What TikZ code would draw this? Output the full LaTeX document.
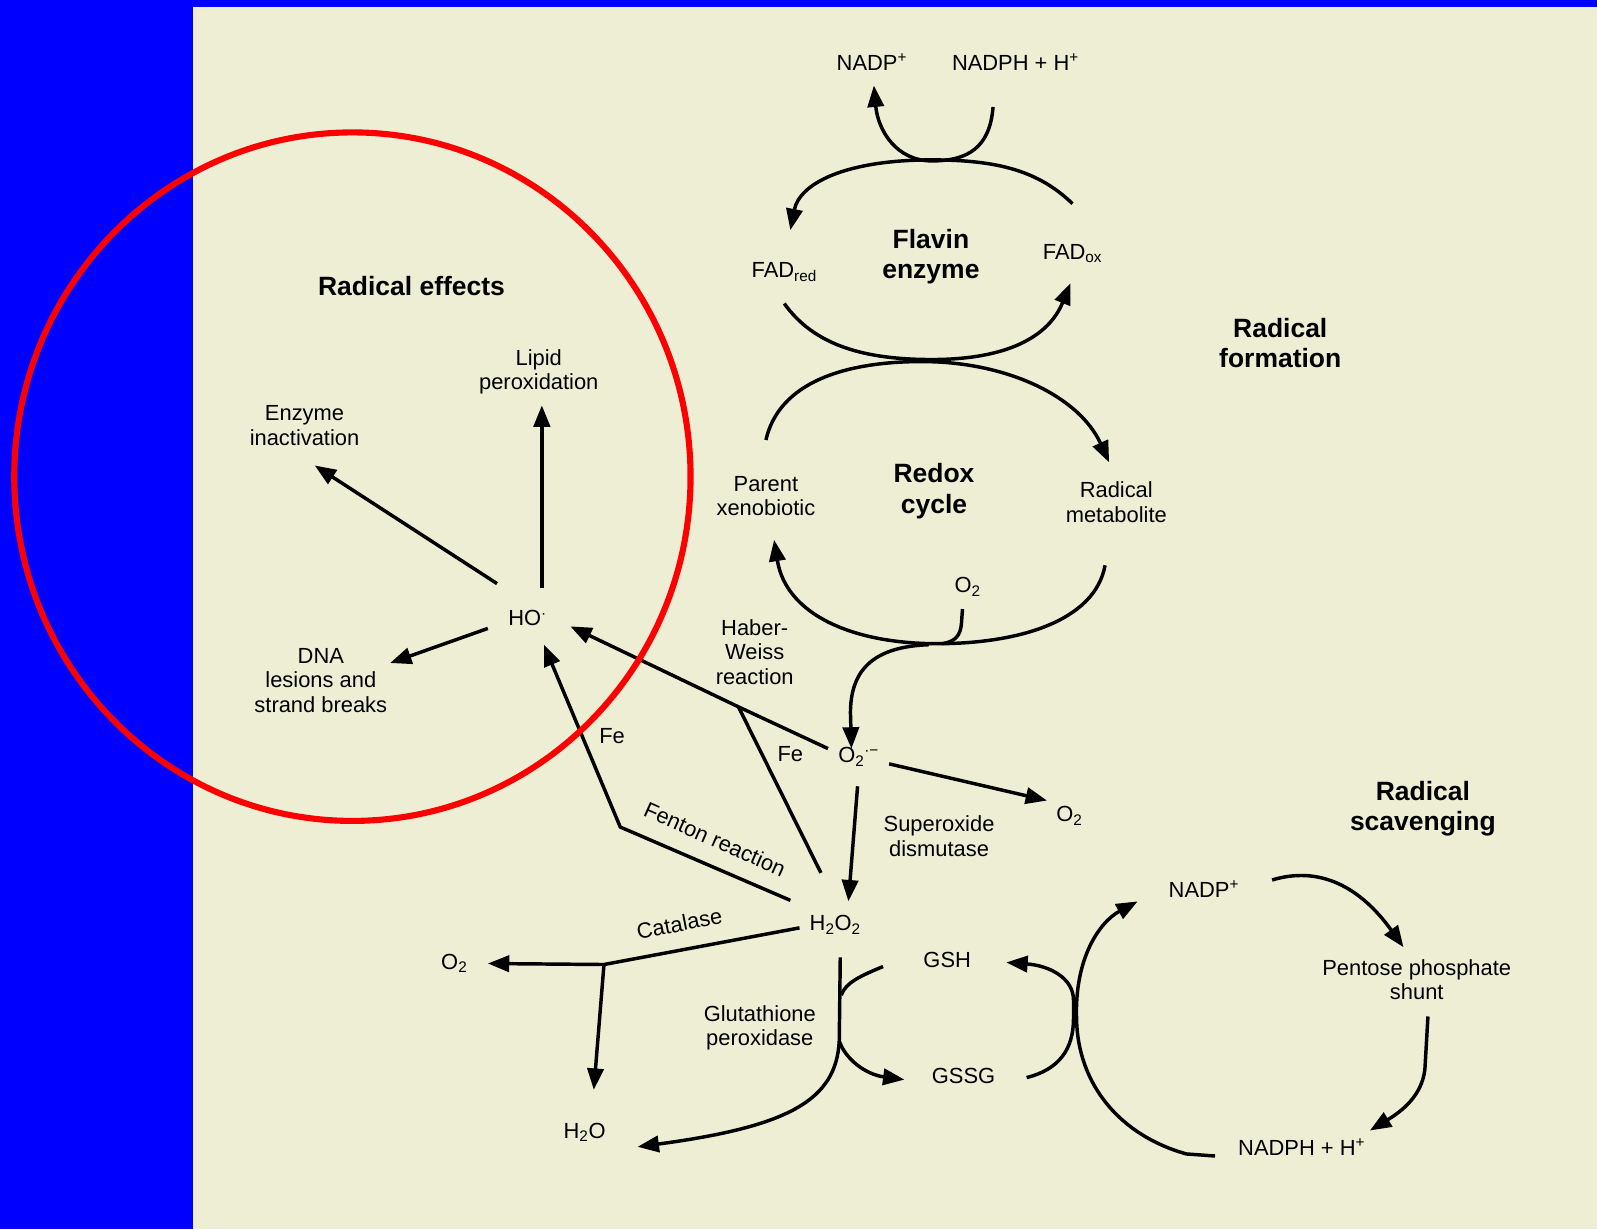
\documentclass[tikz,border=0pt]{standalone}
\usepackage{fontspec}
\setmainfont{Liberation Sans}
\usetikzlibrary{arrows.meta}
\definecolor{bg}{RGB}{238,238,213}
\definecolor{bluebar}{RGB}{0,0,255}
\begin{document}
\begin{tikzpicture}[x=1pt,y=-1pt,
  lbl/.style={font=\fontsize{21.5}{24}\selectfont,align=center,inner sep=0pt},
  hdr/.style={font=\bfseries\fontsize{26}{30}\selectfont,align=center,inner sep=0pt},
  conn/.style={line width=3.4pt,line join=round},
  arr/.style={conn,-{Triangle[length=21pt,width=16pt]}},
]
\useasboundingbox (0,0) rectangle (1568,1207);
\fill[bluebar] (0,0) rectangle (1568,1207);
\fill[bg] (189.5,6.9) rectangle (1568,1207);

% texts
\node[hdr] (reff) at (404,281) {Radical effects};
\node[lbl] (lipid) at (529,365) {Lipid\\peroxidation};
\node[lbl] (enz) at (299,418) {Enzyme\\inactivation};
\node[lbl] (dna) at (315,668) {DNA\\lesions and\\strand breaks};
\node[lbl] (ho) at (518,607) {HO\textsuperscript{·}};
\node[lbl] (nadp1) at (856,61) {NADP\textsuperscript{+}};
\node[lbl] (nadph1) at (997,61) {NADPH + H\textsuperscript{+}};
\node[hdr] (flavin) at (914,252) {Flavin\\enzyme};
\node[lbl] (fadred) at (770,267) {FAD\textsubscript{red}};
\node[lbl] (fadox) at (1053,249) {FAD\textsubscript{ox}};
\node[hdr] (rform) at (1257,337) {Radical\\formation};
\node[hdr] (redox) at (917,482) {Redox\\cycle};
\node[lbl] (parent) at (752,487) {Parent\\xenobiotic};
\node[lbl] (radmet) at (1096,493) {Radical\\metabolite};
\node[lbl] (o2a) at (950,576) {O\textsubscript{2}};
\node[lbl] (hw) at (741,640) {Haber-\\Weiss\\reaction};
\node[lbl] (fe1) at (601,723) {Fe};
\node[lbl] (fe2) at (776,740) {Fe};
\node[lbl] (sox) at (843,743) {O\textsubscript{2}\textsuperscript{·−}};
\node[lbl] (o2b) at (1050,801) {O\textsubscript{2}};
\node[lbl] (sod) at (922,821) {Superoxide\\dismutase};
\node[hdr] (rscav) at (1397,794) {Radical\\scavenging};
\node[lbl,rotate=-24] (fenton) at (702,824) {Fenton reaction};
\node[lbl] (h2o2) at (820,908) {H\textsubscript{2}O\textsubscript{2}};
\node[lbl,rotate=11] (cat) at (667,907) {Catalase};
\node[lbl] (o2c) at (446,946) {O\textsubscript{2}};
\node[lbl] (gsh) at (930,943) {GSH};
\node[lbl] (gpx) at (746,1009) {Glutathione\\peroxidase};
\node[lbl] (gssg) at (946,1056) {GSSG};
\node[lbl] (h2o) at (574,1112) {H\textsubscript{2}O};
\node[lbl] (nadp2) at (1182,873) {NADP\textsuperscript{+}};
\node[lbl] (pps) at (1391,962) {Pentose phosphate\\shunt};
\node[lbl] (nadph2) at (1278,1126) {NADPH + H\textsuperscript{+}};

% radical effects arrows
\coordinate (hoA) at (532,577); \coordinate (lipA) at (532,398);
\draw[arr] (hoA) -- (lipA);
\coordinate (hoB) at (488,573); \coordinate (enzA) at (309,457);
\draw[arr] (hoB) -- (enzA);
\coordinate (hoC) at (479,617); \coordinate (dnaA) at (383,651);
\draw[arr] (hoC) -- (dnaA);

% Haber-Weiss
\coordinate (soxL) at (813,735); \coordinate (hwJ) at (725,694);
\coordinate (h2o2A) at (806,857); \coordinate (hoD) at (560,615);
\draw[arr] (soxL) -- (hwJ) -- (hoD);
\draw[conn] (h2o2A) -- (hwJ);

% Fenton
\coordinate (h2o2B) at (776,884); \coordinate (fenJ) at (609,812); \coordinate (hoE) at (534,633);
\draw[arr] (h2o2B) -- (fenJ) -- (hoE);

% superoxide
\coordinate (soxR) at (873,750); \coordinate (o2bA) at (1028,786);
\draw[arr] (soxR) -- (o2bA);
\coordinate (soxB) at (842,772); \coordinate (h2o2T) at (833,885);
\draw[arr] (soxB) -- (h2o2T);

% catalase
\coordinate (h2o2L) at (785,911); \coordinate (catJ) at (593,947);
\coordinate (o2cA) at (479,946); \coordinate (h2oT) at (583,1070);
\draw[conn] (h2o2L) -- (catJ);
\draw[arr] (catJ) -- (o2cA);
\draw[arr] (catJ) -- (h2oT);

% glutathione peroxidase
\coordinate (h2o2D) at (825,940); \coordinate (gpxJ1) at (826,977);
\coordinate (gpxJ2) at (824,1022); \coordinate (h2oR) at (626,1126);
\draw[arr] (h2o2D) -- (gpxJ2) .. controls (821,1080) and (775,1106) .. (h2oR);
\coordinate (gshL) at (867,949);
\draw[conn] (gshL) .. controls (845,958) and (830,965) .. (gpxJ1);
\coordinate (gssgL) at (888,1060);
\draw[arr] (gpxJ2) .. controls (830,1040) and (850,1055) .. (gssgL);

% GSSG -> GSH
\coordinate (gssgR) at (1008,1058); \coordinate (gshR) at (988,945);
\draw[arr] (gssgR) .. controls (1040,1050) and (1054,1030) .. (1054,1000) -- (1054,982) .. controls (1054,960) and (1030,948) .. (gshR);

% NADPH -> NADP+
\coordinate (nadph2L) at (1193,1135); \coordinate (nadp2L) at (1117,885);
\draw[arr] (nadph2L) -- (1165,1133) .. controls (1100,1115) and (1058,1065) .. (1057,1000) .. controls (1055,940) and (1080,905) .. (nadp2L);

% pentose cycle
\coordinate (nadp2R) at (1249,864); \coordinate (ppsT) at (1378,930);
\draw[arr] (nadp2R) .. controls (1295,850) and (1335,870) .. (ppsT);
\coordinate (ppsB) at (1402,998); \coordinate (nadph2R) at (1345,1110);
\draw[arr] (ppsB) -- (1399,1050) .. controls (1396,1075) and (1378,1090) .. (nadph2R);

% flavin
\coordinate (nadph1B) at (975,105); \coordinate (nadp1B) at (858,84);
\draw[arr] (nadph1B) .. controls (972,145) and (950,158) .. (915,158) .. controls (880,158) and (862,128) .. (nadp1B);
\coordinate (fadoxT) at (1053,200); \coordinate (fadredT) at (776,226);
\draw[arr] (fadoxT) .. controls (1020,168) and (980,157) .. (915,157) .. controls (830,157) and (785,180) .. (fadredT);
\coordinate (fadredB) at (770,298); \coordinate (fadoxB) at (1051,278);
\draw[arr] (fadredB) .. controls (800,340) and (850,353) .. (915,353) .. controls (990,353) and (1030,330) .. (fadoxB);

% redox
\coordinate (parentT) at (752,432); \coordinate (radmetT) at (1089,454);
\draw[arr] (parentT) .. controls (765,375) and (830,355) .. (905,355) .. controls (990,355) and (1060,390) .. (radmetT);
\coordinate (radmetB) at (1085,555); \coordinate (parentB) at (760,530);
\draw[arr] (radmetB) .. controls (1075,610) and (1000,632) .. (920,632) .. controls (840,632) and (772,605) .. (parentB);
\coordinate (o2aB) at (945,598); \coordinate (o2J) at (925,632);
\draw[conn] (o2aB) -- (944,612) .. controls (943,624) and (938,630) .. (o2J);
\coordinate (sJ) at (912,633); \coordinate (soxT) at (836,735);
\draw[arr] (sJ) .. controls (855,635) and (835,660) .. (835,700) -- (soxT);

% red circle
\draw[red,line width=6pt] (346,468) ellipse [x radius=332, y radius=338];
\end{tikzpicture}
\end{document}
